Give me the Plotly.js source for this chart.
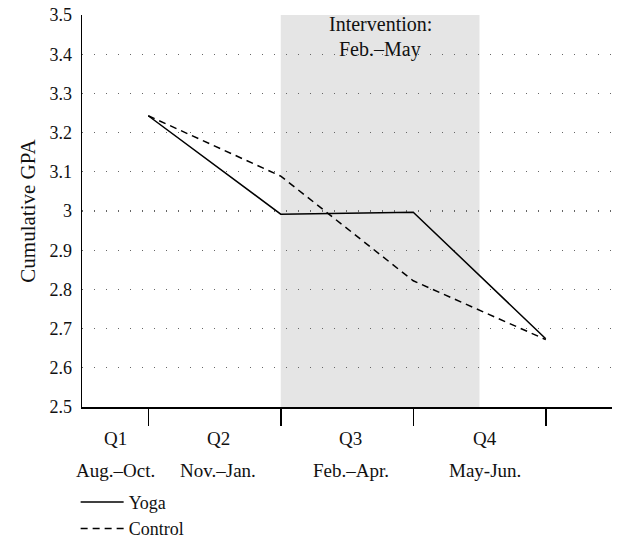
<!DOCTYPE html>
<html>
<head>
<meta charset="utf-8">
<script src="https://cdn.plot.ly/plotly-3.0.1.min.js"></script>
<style>html,body{margin:0;padding:0;background:#fff;}#chart{width:617px;height:543px;}</style>
</head>
<body>
<div id="chart"></div>
<script>
// ---- data ----
var quarters = [1, 2, 3, 4];
var yoga = [3.243, 2.992, 2.997, 2.674];
var control = [3.243, 3.089, 2.822, 2.672];
var quarterLabels = ["Q1", "Q2", "Q3", "Q4"];
var monthLabels = ["Aug.–Oct.", "Nov.–Jan.", "Feb.–Apr.", "May-Jun."];
var yTicks = [2.5, 2.6, 2.7, 2.8, 2.9, 3, 3.1, 3.2, 3.3, 3.4, 3.5];
var interventionStart = 2, interventionEnd = 3.5;

// label placement (between tick marks)
var labelPos = [0.75, 1.53, 2.53, 3.54];

var FONT = "'Liberation Serif', serif";

var traces = [
  {x: quarters, y: yoga, name: "Yoga", type: "scatter", mode: "lines",
   line: {color: "#000", width: 1.5}},
  {x: quarters, y: control, name: "Control", type: "scatter", mode: "lines",
   line: {color: "#000", width: 1.5, dash: "7px,5px"}}
];

var annotations = [];
for (var i = 0; i < quarterLabels.length; i++) {
  annotations.push({x: labelPos[i], xref: "x", y: 0, yref: "paper", yanchor: "middle",
    yshift: -31, text: quarterLabels[i], showarrow: false, font: {family: FONT, size: 19, color: "#111"}});
  annotations.push({x: labelPos[i], xref: "x", y: 0, yref: "paper", yanchor: "middle",
    yshift: -63, text: monthLabels[i], showarrow: false, font: {family: FONT, size: 19, color: "#111"}});
}
annotations.push({x: (interventionStart + interventionEnd) / 2, xref: "x", y: 1, yref: "paper",
  yanchor: "middle", yshift: -9, text: "Intervention:", showarrow: false,
  font: {family: FONT, size: 20, color: "#111"}});
annotations.push({x: (interventionStart + interventionEnd) / 2, xref: "x", y: 1, yref: "paper",
  yanchor: "middle", yshift: -34, text: "Feb.–May", showarrow: false,
  font: {family: FONT, size: 20, color: "#111"}});

var layout = {
  width: 617, height: 543,
  margin: {l: 82, r: 5, t: 15, b: 136, autoexpand: false},
  paper_bgcolor: "#fff", plot_bgcolor: "#fff",
  font: {family: FONT, size: 17, color: "#111"},
  showlegend: true,
  legend: {x: -0.012, xanchor: "left", y: -0.196, yanchor: "top", orientation: "v",
    font: {family: FONT, size: 18, color: "#111"}, bgcolor: "rgba(0,0,0,0)",
    itemwidth: 43},
  xaxis: {range: [0.5, 4.5], tickvals: quarters, ticktext: ["", "", "", ""],
    ticks: "outside", ticklen: 17, tickwidth: 1.5, tickcolor: "#000",
    showline: true, linecolor: "#000", linewidth: 1.5, showgrid: false, zeroline: false,
    fixedrange: true},
  yaxis: {range: [2.5, 3.5], tickvals: yTicks, ticks: "", showline: true, linecolor: "#000",
    linewidth: 1.5, showgrid: true, gridcolor: "#666", gridwidth: 1.3, griddash: "1.3px,10.7px",
    zeroline: false, ticklabelstandoff: 5, tickfont: {family: FONT, size: 18, color: "#111"},
    title: {text: "Cumulative GPA", font: {family: FONT, size: 21, color: "#111"}, standoff: 8}},
  shapes: [{type: "rect", xref: "x", yref: "paper", x0: interventionStart, x1: interventionEnd,
    y0: 0, y1: 1, fillcolor: "#e5e5e5", line: {width: 0}, layer: "below"}],
  annotations: annotations
};

Plotly.newPlot("chart", traces, layout, {displayModeBar: false, staticPlot: true});
</script>
</body>
</html>
